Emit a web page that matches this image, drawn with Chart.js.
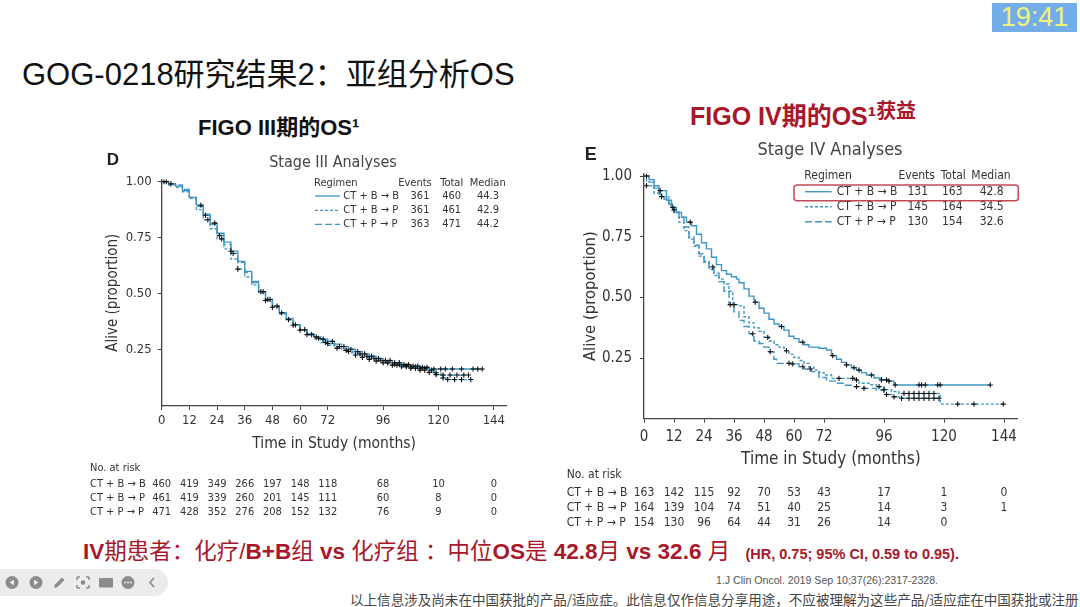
<!DOCTYPE html>
<html>
<head>
<meta charset="utf-8">
<script src="https://cdn.jsdelivr.net/npm/chart.js@4.4.0/dist/chart.umd.min.js"></script>
<style>
  body { margin: 0; width: 1080px; height: 607px; background: #fff; position: relative; overflow: hidden;
         font-family: "Liberation Sans", Arial, "Noto Sans CJK SC", sans-serif; }
  .t { position: absolute; white-space: nowrap; }
  .red { color: #a8172a; }
  .box { position: absolute; }
  #clock { left: 992px; top: 3px; width: 85px; height: 29px; background: #74aee8; color: #f1f57a;
           font-size: 27px; line-height: 29px; text-align: center; }
  #bar { left: -14px; top: 569px; width: 182px; height: 27px; border-radius: 14px; background: #ececec; }
</style>
</head>
<body>

<div class="t" style="left:22px;top:57px;font-size:31px;line-height:36px;color:#111">GOG-0218研究结果2：亚组分析OS</div>
<div class="t" style="left:198px;top:114px;font-size:22px;line-height:28px;font-weight:bold;color:#111">FIGO III期的OS¹</div>
<div class="t red" style="left:690px;top:101px;font-size:25px;line-height:30px;font-weight:bold">FIGO IV期的OS¹<span style="font-size:20px;position:relative;top:-7px">获益</span></div>

<div class="box" style="left:80px;top:140px"><canvas id="c3" width="460" height="385"></canvas></div>
<div class="box" style="left:560px;top:130px"><canvas id="c4" width="480" height="405"></canvas></div>

<div class="t red" style="left:83px;top:538px;font-size:22.5px;line-height:28px"><b>IV</b>期患者：化疗/<b>B+B</b>组 <b>vs</b> 化疗组 ：中位<b>OS</b>是 <b>42.8</b>月 <b>vs 32.6</b> 月 <b style="font-size:14.5px;margin-left:9px">(HR, 0.75; 95% CI, 0.59 to 0.95).</b></div>
<div class="t" style="left:716px;top:573px;font-size:10.6px;line-height:14px;color:#555">1.J Clin Oncol. 2019 Sep 10;37(26):2317-2328.</div>
<div class="t" style="left:350px;top:591px;font-size:13.55px;line-height:16px;color:#444;font-family:'Noto Sans CJK SC',sans-serif">以上信息涉及尚未在中国获批的产品/适应症。此信息仅作信息分享用途，不应被理解为这些产品/适应症在中国获批或注册</div>

<div class="t" id="clock">19:41</div>
<div class="box" id="bar">
  <svg width="182" height="27" viewBox="0 0 182 27">
    <g fill="#8c8c8c">
      <circle cx="26" cy="13.5" r="6.5"/><path d="M23.5 13.5 L28 10.8 L28 16.2 Z" fill="#ececec"/>
      <circle cx="50" cy="13.5" r="6.5"/><path d="M52.5 13.5 L48 10.8 L48 16.2 Z" fill="#ececec"/>
      <path d="M68 19 L69 15.5 L76 8.5 L78.5 11 L71.5 18 Z"/>
      <path d="M91 8 h3 M91 8 v3 M103 8 h-3 M103 8 v3 M91 19 h3 M91 19 v-3 M103 19 h-3 M103 19 v-3" stroke="#8c8c8c" stroke-width="1.6" fill="none"/>
      <circle cx="97" cy="13.5" r="2.3"/>
      <rect x="113" y="9" width="14" height="9.5" rx="1"/>
      <circle cx="142" cy="13.5" r="6.5"/>
      <path d="M168 9 L164 13.5 L168 18" stroke="#8c8c8c" stroke-width="1.8" fill="none"/>
    </g>
    <g fill="#ececec"><circle cx="139" cy="13.5" r="1"/><circle cx="142" cy="13.5" r="1"/><circle cx="145" cy="13.5" r="1"/></g>
  </svg>
</div>

<script>
const FONT = '"Liberation Sans Narrow", "DejaVu Sans Condensed", "Liberation Sans", sans-serif';
const LINE_COLOR = '#3f96c4';

// shared axis / table values
const riskTimes = [0, 12, 24, 36, 48, 60, 72, 96, 120, 144];
const yTicks = [0.25, 0.50, 0.75, 1.00];
const regimens = ['CT + B \u2192 B', 'CT + B \u2192 P', 'CT + P \u2192 P'];

// Stage III
const s3Events = [361, 361, 363];
const s3Total = [460, 461, 471];
const s3Median = ['44.3', '42.9', '44.2'];
const s3Risk = [
  [460, 419, 349, 266, 197, 148, 118, 68, 10, 0],
  [461, 419, 339, 260, 201, 145, 111, 60, 8, 0],
  [471, 428, 352, 276, 208, 152, 132, 76, 9, 0]
];
const s3CurveBB = [[0,1],[3,0.99],[6,0.98],[9,0.96],[12,0.93],[15,0.895],[18,0.855],[21,0.815],[24,0.77],[27,0.73],
  [30,0.69],[33,0.645],[36,0.6],[39,0.555],[42,0.51],[45,0.475],[48,0.445],[51,0.415],[54,0.39],[57,0.362],[60,0.34],
  [63,0.322],[66,0.308],[69,0.298],[72,0.288],[75,0.276],[78,0.265],[81,0.253],[84,0.242],[87,0.232],[90,0.222],
  [93,0.212],[96,0.203],[100,0.193],[104,0.185],[108,0.178],[112,0.172],[116,0.165],[139,0.165]];
const s3CurveBP = [[0,1],[3,0.985],[6,0.975],[9,0.955],[12,0.925],[15,0.875],[18,0.83],[21,0.79],[24,0.745],[27,0.7],
  [30,0.655],[33,0.61],[36,0.575],[39,0.54],[42,0.505],[45,0.47],[48,0.44],[51,0.41],[54,0.385],[57,0.36],[60,0.338],
  [63,0.318],[66,0.298],[69,0.283],[72,0.27],[75,0.258],[78,0.248],[81,0.237],[84,0.227],[87,0.217],[90,0.208],
  [93,0.2],[96,0.192],[100,0.182],[104,0.175],[108,0.168],[112,0.16],[116,0.15],[119,0.14],[121,0.125],[124,0.118],[134,0.118]];
const s3CurvePP = [[0,1],[3,0.99],[6,0.985],[9,0.965],[12,0.93],[15,0.89],[18,0.85],[21,0.81],[24,0.76],[27,0.72],
  [30,0.68],[33,0.64],[36,0.595],[39,0.55],[42,0.51],[45,0.475],[48,0.445],[51,0.415],[54,0.388],[57,0.36],[60,0.338],
  [63,0.318],[66,0.302],[69,0.29],[72,0.278],[75,0.265],[78,0.255],[81,0.243],[84,0.232],[87,0.222],[90,0.213],
  [93,0.204],[96,0.195],[100,0.186],[104,0.18],[108,0.174],[112,0.168],[116,0.16],[118,0.148],[121,0.138],[133,0.138]];
const s3CensorBB = [1, 17, 23, 30, 44, 46, 52, 58, 62, 67, 70, 74, 79, 82, 85, 88, 91, 94, 97, 99, 101, 103, 105, 107,
  109, 111, 113, 115, 118, 121, 123, 126, 130, 135, 137, 139];
const s3CensorBP = [2, 20, 26, 33, 45, 48, 55, 60, 65, 71, 76, 80, 84, 87, 90, 93, 96, 98, 100, 102, 104, 106, 108, 110,
  112, 114, 116, 119, 122, 124, 127, 130, 134];
const s3CensorPP = [4, 19, 25, 31, 43, 47, 50, 57, 63, 68, 72, 77, 81, 86, 89, 92, 95, 98, 101, 103, 106, 108, 110, 112,
  114, 117, 119, 122, 125, 128, 131, 133];

// Stage IV
const s4Events = [131, 145, 130];
const s4Total = [163, 164, 154];
const s4Median = ['42.8', '34.5', '32.6'];
const s4Risk = [
  [163, 142, 115, 92, 70, 53, 43, 17, 1, 0],
  [164, 139, 104, 74, 51, 40, 25, 14, 3, 1],
  [154, 130, 96, 64, 44, 31, 26, 14, 0, null]
];
const s4CurveBB = [[0,1],[2,0.985],[4,0.96],[6,0.94],[9,0.9],[11,0.87],[13,0.85],[15,0.83],[17,0.81],[19,0.795],
  [21,0.76],[23,0.725],[25,0.7],[27,0.665],[29,0.635],[31,0.61],[33,0.595],[35,0.585],[37,0.575],[38,0.56],[40,0.535],
  [42,0.505],[44,0.48],[46,0.455],[48,0.435],[50,0.41],[52,0.39],[54,0.38],[56,0.365],[58,0.34],[60,0.33],[62,0.315],
  [64,0.305],[66,0.295],[70,0.29],[73,0.283],[75,0.26],[77,0.245],[79,0.232],[81,0.222],[83,0.21],[85,0.2],[87,0.19],
  [89,0.18],[92,0.168],[95,0.16],[98,0.155],[100,0.139],[138.5,0.139]];
const s4CurveBP = [[0,1],[1,0.96],[4,0.93],[7,0.915],[10,0.88],[12,0.85],[14,0.81],[16,0.775],[18,0.74],[20,0.71],
  [22,0.67],[24,0.645],[26,0.615],[28,0.59],[30,0.575],[32,0.555],[34,0.525],[35.5,0.47],[38,0.465],[40,0.42],
  [42,0.395],[44,0.375],[46,0.36],[48,0.335],[50,0.32],[52,0.305],[54,0.295],[56,0.28],[58,0.265],[60,0.252],
  [62,0.24],[64,0.228],[66,0.212],[68,0.2],[70,0.19],[72,0.18],[75,0.166],[84,0.16],[86,0.146],[90,0.14],[93,0.132],
  [96,0.12],[99,0.112],[102,0.104],[118.5,0.06],[143.7,0.06]];
const s4CurvePP = [[0,1],[2,0.975],[4,0.95],[6,0.925],[8,0.905],[10,0.885],[12,0.86],[14,0.83],[16,0.79],[18,0.75],
  [20,0.715],[22,0.68],[24,0.65],[26,0.625],[28,0.6],[30,0.565],[32,0.525],[34,0.47],[36,0.44],[38,0.405],[40,0.38],
  [42,0.35],[44,0.32],[46,0.31],[48,0.295],[50,0.276],[52,0.245],[53,0.228],[59,0.226],[62,0.214],[64,0.205],
  [67,0.194],[70,0.17],[73,0.155],[77,0.146],[80,0.138],[84,0.132],[88,0.125],[93,0.118],[96,0.1],[100,0.09],
  [103,0.084],[118,0.084]];
const s4CensorBB = [1, 6.5, 11.5, 18.5, 44.5, 55, 63.5, 75.5, 81, 84, 86, 91, 95, 97, 98, 100.5, 110, 111, 112.5,
  117.5, 118.5, 138.5];
const s4CensorBP = [1, 7, 36, 49.5, 57, 78, 83.5, 85, 94, 96, 104, 106, 108, 110, 112, 114, 116, 125.5, 132, 143.7];
const s4CensorPP = [12, 27.5, 34.5, 43.5, 50.5, 58, 59.5, 63.5, 66.5, 85, 88, 97, 100, 103, 106, 108, 110, 112, 114,
  116, 118];

const dashes = [[], [3, 2], [7, 3]];

function stepValue(curve, t) {
  let s = curve[0][1];
  for (const [x, y] of curve) { if (x <= t) s = y; else break; }
  return s;
}

function buildDatasets(curves, censors, lw) {
  const lines = curves.map((c, i) => ({
    type: 'line', label: regimens[i], data: c.map(([x, y]) => ({x, y})),
    stepped: true, borderColor: LINE_COLOR, borderWidth: lw, borderDash: dashes[i],
    pointRadius: 0, fill: false, order: 1
  }));
  const marks = censors.map((ts, i) => ({
    type: 'scatter', label: regimens[i] + ' censored',
    data: ts.map(t => ({x: t, y: stepValue(curves[i], t)})),
    pointStyle: 'cross', pointRadius: 2.6, borderColor: '#111', borderWidth: 1.1, order: 0
  }));
  return lines.concat(marks);
}

const kmDecor = {
  id: 'kmDecor',
  afterDraw(chart, args, o) {
    const ctx = chart.ctx;
    const ds = chart.data.datasets;
    ctx.save();
    ctx.textBaseline = 'middle';
    ctx.fillStyle = '#222';
    ctx.textAlign = 'center';
    ctx.font = 'bold ' + o.letterSize + 'px "Liberation Sans", Arial, sans-serif';
    ctx.fillText(o.letter, o.letterX, o.letterY);
    ctx.fillStyle = '#444';
    ctx.font = o.titleSize + 'px ' + FONT;
    ctx.fillText(o.title, o.titleX, o.titleY);

    // legend table
    ctx.fillStyle = '#333';
    ctx.font = o.legSize + 'px ' + FONT;
    ctx.textAlign = 'left';
    ctx.fillText('Regimen', o.legX, o.legHeadY);
    ctx.textAlign = 'center';
    ['Events', 'Total', 'Median'].forEach((h, k) => ctx.fillText(h, o.colX[k], o.legHeadY));
    for (let i = 0; i < 3; i++) {
      const y = o.legRowY[i];
      ctx.beginPath();
      ctx.strokeStyle = ds[i].borderColor;
      ctx.lineWidth = ds[i].borderWidth;
      ctx.setLineDash(ds[i].borderDash);
      ctx.moveTo(o.sampleX[0], y);
      ctx.lineTo(o.sampleX[1], y);
      ctx.stroke();
      ctx.setLineDash([]);
      ctx.textAlign = 'left';
      ctx.fillText(regimens[i], o.labelX, y);
      ctx.textAlign = 'center';
      ctx.fillText(String(o.events[i]), o.numX[0], y);
      ctx.fillText(String(o.totals[i]), o.numX[1], y);
      ctx.fillText(o.medians[i], o.numX[2], y);
    }
    if (o.box) {
      const [bx, by, bw, bh] = o.box;
      ctx.strokeStyle = '#c24a55';
      ctx.lineWidth = 1.5;
      ctx.beginPath();
      ctx.roundRect(bx, by, bw, bh, 3);
      ctx.stroke();
    }

    // numbers at risk
    const xs = chart.scales.x;
    ctx.fillStyle = '#333';
    ctx.font = o.riskSize + 'px ' + FONT;
    ctx.textAlign = 'left';
    ctx.fillText('No. at risk', o.riskX, o.riskHeadY);
    for (let i = 0; i < 3; i++) {
      ctx.textAlign = 'left';
      ctx.fillText(regimens[i], o.riskX, o.riskRowY[i]);
      ctx.textAlign = 'center';
      o.risk[i].forEach((n, j) => {
        if (n === null) return;
        ctx.fillText(String(n), xs.getPixelForValue(riskTimes[j]), o.riskRowY[i]);
      });
    }
    ctx.restore();
  }
};

function makeChart(id, datasets, g, decor) {
  return new Chart(document.getElementById(id), {
    type: 'line',
    data: { datasets },
    options: {
      responsive: false,
      animation: false,
      layout: { padding: g.padding },
      plugins: { legend: { display: false }, tooltip: { enabled: false }, kmDecor: decor },
      scales: {
        x: {
          type: 'linear', min: 0, max: 149.5,
          afterBuildTicks: s => { s.ticks = riskTimes.map(v => ({value: v})); },
          afterFit: s => { s.height = g.xHeight; },
          ticks: { color: '#333', font: { family: FONT, size: g.tickSize }, padding: g.xTickPad, autoSkip: false, maxRotation: 0 },
          grid: { drawOnChartArea: false, drawTicks: true, tickLength: 4, color: '#444' },
          border: { color: '#444', width: 1.3 },
          title: { display: true, text: 'Time in Study (months)', color: '#333',
                   font: { family: FONT, size: g.xTitleSize }, padding: { top: 0, bottom: g.xTitlePad } }
        },
        y: {
          min: 0, max: 1.01,
          afterBuildTicks: s => { s.ticks = yTicks.map(v => ({value: v})); },
          afterFit: s => { s.width = g.yWidth; },
          ticks: { color: '#333', font: { family: FONT, size: g.tickSize }, padding: g.yTickPad,
                   callback: v => v.toFixed(2) },
          grid: { drawOnChartArea: false, drawTicks: true, tickLength: 4, color: '#444' },
          border: { color: '#444', width: 1.3 },
          title: { display: true, text: 'Alive (proportion)', color: '#333',
                   font: { family: FONT, size: g.yTitleSize }, padding: { top: g.yTitlePad, bottom: 0 } }
        }
      }
    },
    plugins: [kmDecor]
  });
}

makeChart('c3',
  buildDatasets([s3CurveBB, s3CurveBP, s3CurvePP], [s3CensorBB, s3CensorBP, s3CensorPP], 1.3),
  { padding: { left: 0, right: 33.5, top: 39.4, bottom: 67 }, xHeight: 52, yWidth: 81.7,
    tickSize: 13, xTickPad: 3, yTickPad: 6, xTitleSize: 15.5, xTitlePad: 5, yTitleSize: 15, yTitlePad: 24 },
  { letter: 'D', letterSize: 17, letterX: 33, letterY: 20, title: 'Stage III Analyses', titleSize: 16,
    titleX: 253, titleY: 23,
    legSize: 11, legX: 234, legHeadY: 42.7, colX: [335, 371.7, 407.7], legRowY: [56, 70.3, 84.3],
    sampleX: [235, 260], labelX: 263.3, numX: [340, 371.7, 408],
    events: s3Events, totals: s3Total, medians: s3Median,
    riskSize: 11, riskX: 10, riskHeadY: 327.7, riskRowY: [344.3, 358.3, 372.3], risk: s3Risk });

makeChart('c4',
  buildDatasets([s4CurveBB, s4CurveBP, s4CurvePP], [s4CensorBB, s4CensorBP, s4CensorPP], 1.4),
  { padding: { left: 0, right: 22.25, top: 43.6, bottom: 60.3 }, xHeight: 56, yWidth: 84,
    tickSize: 15, xTickPad: 5, yTickPad: 8, xTitleSize: 17, xTitlePad: 4.5, yTitleSize: 16.5, yTitlePad: 21 },
  { letter: 'E', letterSize: 18, letterX: 30.7, letterY: 25, title: 'Stage IV Analyses', titleSize: 18,
    titleX: 270, titleY: 20,
    legSize: 12, legX: 244.3, legHeadY: 46, colX: [356.7, 393.3, 431], legRowY: [61.7, 76.7, 91.7],
    sampleX: [245, 271.7], labelX: 276.7, numX: [357.7, 392.3, 431.7],
    events: s4Events, totals: s4Total, medians: s4Median, box: [234, 55, 224.3, 15.7],
    riskSize: 12, riskX: 6.7, riskHeadY: 345, riskRowY: [363.3, 378.3, 393.3], risk: s4Risk });
</script>
</body>
</html>
